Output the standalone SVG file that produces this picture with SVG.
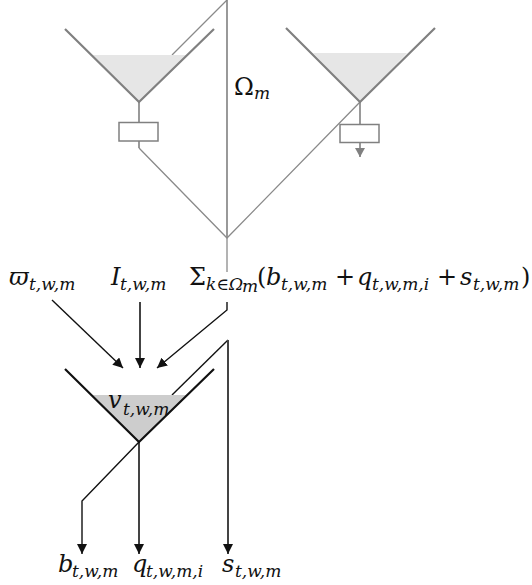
<svg xmlns="http://www.w3.org/2000/svg" width="532" height="585" viewBox="0 0 532 585">
<style>
text{font-family:"DejaVu Serif","Liberation Serif",serif;fill:#111;font-size:24px}
.i{font-style:italic}
.s{font-style:italic;font-size:17px}
.g{fill:none;stroke:#8a8a8a;stroke-width:1.3}
.gt{fill:none;stroke:#808080;stroke-width:2.2}
.gm{fill:none;stroke:#808080;stroke-width:1.6}
.k{fill:none;stroke:#111;stroke-width:1.4}
.kt{fill:none;stroke:#111;stroke-width:2.2}
.km{fill:none;stroke:#444;stroke-width:2}
</style>
<defs>
<marker id="ga" markerUnits="userSpaceOnUse" markerWidth="12" markerHeight="12" refX="9" refY="5" orient="auto"><path d="M0 0L9 5L0 10Z" fill="#808080"/></marker>
<marker id="ka" markerUnits="userSpaceOnUse" markerWidth="12" markerHeight="12" refX="10" refY="5" orient="auto"><path d="M0 0L10 5L0 10Z" fill="#111"/></marker>
</defs>
<g id="connectors">
<path class="g" d="M172 55L227 0"/>
<path class="gm" d="M227 0V238"/>
<path class="g" d="M139 148L227 238L360 102"/>
<path class="g" d="M227 238V272"/>
<path class="k" d="M52 300L123 368" marker-end="url(#ka)"/>
<path class="km" d="M140 302V368" marker-end="url(#ka)"/>
<path class="k" d="M227 302V310L157 368" marker-end="url(#ka)"/>
<path class="k" d="M172 395L228 340"/>
<path class="km" d="M228 340V554" marker-end="url(#ka)"/>
<path class="km" d="M139 442V554" marker-end="url(#ka)"/>
<path class="k" d="M139 442L82 501V554" marker-end="url(#ka)"/>
</g>
<g id="reservoir-1">
<path d="M92 55H188L139 102Z" fill="#e6e6e6"/>
<path class="gt" d="M65 29L139 102L214 29"/>
<path class="gm" d="M139 102V122"/>
<rect x="119" y="122.500" width="39" height="18.500" fill="#fff" stroke="#808080" stroke-width="1.500"/>
<path class="gm" d="M139 141V148"/>
</g>
<g id="reservoir-2">
<path d="M313 53H407L360 102Z" fill="#e6e6e6"/>
<path class="gt" d="M286 28L360 102L435 28"/>
<path class="gm" d="M360 102V124"/>
<rect x="340" y="124.500" width="39" height="18" fill="#fff" stroke="#808080" stroke-width="1.500"/>
<path class="gm" d="M360 143V157" marker-end="url(#ga)"/>
</g>
<g id="reservoir-3">
<path d="M92 395H188L139 442Z" fill="#cdcdcd"/>
<path class="kt" d="M65 369L139 442L214 369"/>
<text class="i" x="108" y="408">v<tspan class="s" x="123" y="415">t,w,m</tspan></text>
</g>
<g id="labels">
<text x="234" y="95">Ω<tspan class="s" x="254" y="99">m</tspan></text>
<text class="i" x="9" y="285">ϖ<tspan class="s" x="29" y="290">t,w,m</tspan></text>
<text class="i" x="111" y="285">I<tspan class="s" x="120" y="290">t,w,m</tspan></text>
<text x="189" y="285">Σ<tspan class="s" x="206" y="290" font-size="15">k∈Ω</tspan><tspan class="s" x="242" y="292" font-size="13">m</tspan><tspan x="257" y="285">(</tspan><tspan class="i" x="266" y="285">b</tspan><tspan class="s" x="281" y="290">t,w,m</tspan><tspan x="335" y="285">+</tspan><tspan class="i" x="357" y="285">q</tspan><tspan class="s" x="372" y="290">t,w,m,i</tspan><tspan x="437" y="285">+</tspan><tspan class="i" x="460" y="285">s</tspan><tspan class="s" x="473" y="290">t,w,m</tspan><tspan x="521" y="285">)</tspan></text>
<text class="i" x="58" y="572">b<tspan class="s" x="72" y="577">t,w,m</tspan></text>
<text class="i" x="132" y="572">q<tspan class="s" x="146" y="577">t,w,m,i</tspan></text>
<text class="i" x="222" y="572">s<tspan class="s" x="235" y="577">t,w,m</tspan></text>
</g>
</svg>
